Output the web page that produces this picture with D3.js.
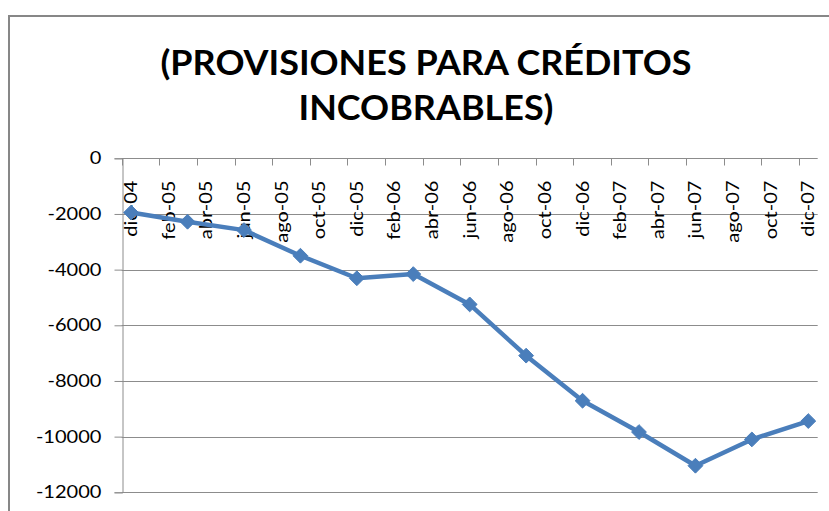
<!DOCTYPE html>
<html>
<head>
<meta charset="utf-8">
<script src="https://cdn.jsdelivr.net/npm/d3@7"></script>
<style>
  html, body { margin: 0; padding: 0; background: #fff; }
  svg { display: block; }
  text { font-family: Lato, "Open Sans", sans-serif; fill: #000; }
</style>
</head>
<body>
<svg id="chart" width="829" height="511"></svg>
<script>
// ---- data ----
const titleLines = ["(PROVISIONES PARA CRÉDITOS", "INCOBRABLES)"];
const monthAbbr = ["ene","feb","mar","abr","may","jun","jul","ago","sep","oct","nov","dic"];
const tickLabels = ["dic-04","feb-05","abr-05","jun-05","ago-05","oct-05","dic-05","feb-06","abr-06","jun-06","ago-06","oct-06","dic-06","feb-07","abr-07","jun-07","ago-07","oct-07","dic-07"];
const pointDates = ["dic-04","mar-05","jun-05","sep-05","dic-05","mar-06","jun-06","sep-06","dic-06","mar-07","jun-07","sep-07","dic-07"];
const values = [-1950, -2280, -2580, -3500, -4310, -4160, -5250, -7090, -8710, -9835, -11045, -10100, -9440];
const yTicks = [0, -2000, -4000, -6000, -8000, -10000, -12000];

// month slots of the date axis (dic-04 .. dic-07)
const allMonths = [];
for (let yr = 4; yr <= 7; yr++) {
  monthAbbr.forEach((m, i) => {
    if (yr === 4 && i < 11) return;
    allMonths.push(m + "-" + String(yr).padStart(2, "0"));
  });
}

const svg = d3.select("#chart");
const plot = { left: 121.7, right: 817.7, top: 158.3, bottom: 492.3 };

const x = d3.scaleBand().domain(allMonths).range([plot.left, plot.right]).paddingInner(0).paddingOuter(0);
const bw = x.bandwidth();
const y = d3.scaleLinear().domain([0, -12000]).range([plot.top, plot.bottom]);

// outer chart border (extends beyond view)
svg.append("rect").attr("x", 9).attr("y", 16).attr("width", 900).attr("height", 600)
  .attr("fill", "none").attr("stroke", "#878787").attr("stroke-width", 2);

function stretch(sel, k) {
  sel.each(function () {
    const w = this.getComputedTextLength();
    d3.select(this).attr("textLength", w * k).attr("lengthAdjust", "spacingAndGlyphs");
  });
}

// title
const titleBase = [75, 120];
const titleWidth = [531, 255];
titleLines.forEach((t, i) => {
  svg.append("text").attr("x", 426).attr("y", titleBase[i])
    .attr("text-anchor", "middle").attr("font-size", 34).attr("font-weight", 700)
    .attr("textLength", titleWidth[i]).attr("lengthAdjust", "spacingAndGlyphs")
    .text(t);
});

// horizontal gridlines
svg.append("g").selectAll("line").data(yTicks.filter(d => d !== 0)).join("line")
  .attr("x1", plot.left).attr("x2", plot.right)
  .attr("y1", d => Math.round(y(d)) + 0.5).attr("y2", d => Math.round(y(d)) + 0.5)
  .attr("stroke", "#8c8c8c").attr("stroke-width", 1);

// y axis
const yAxis = svg.append("g").attr("transform", `translate(${Math.round(plot.left) + 0.5},0)`)
  .call(d3.axisLeft(y).tickValues(yTicks).tickSize(8).tickPadding(13).tickFormat(d => String(d)));
yAxis.select(".domain").attr("stroke", "#8c8c8c");
yAxis.selectAll(".tick line").attr("stroke", "#8c8c8c");
yAxis.selectAll(".tick text").attr("font-size", 17).attr("font-family", "Lato, sans-serif").attr("fill", "#000");
stretch(yAxis.selectAll(".tick text"), 1.18);

// x axis (date axis at value 0)
const xAxis = svg.append("g").attr("transform", `translate(0,${Math.round(y(0)) + 0.5})`);
xAxis.append("line").attr("x1", plot.left).attr("x2", plot.right).attr("stroke", "#8c8c8c");
xAxis.selectAll("line.tick").data(tickLabels).join("line").attr("class", "tick")
  .attr("x1", d => Math.round(x(d)) + 0.5).attr("x2", d => Math.round(x(d)) + 0.5)
  .attr("y1", 0).attr("y2", 7).attr("stroke", "#8c8c8c");
const xl = xAxis.selectAll("text").data(tickLabels).join("text")
  .attr("transform", d => `translate(${x(d) + bw / 2},${22}) rotate(-90)`)
  .attr("text-anchor", "end").attr("dy", "0.35em")
  .attr("font-size", 17).text(d => d);
stretch(xl, 1.18);

// series line
const pts = pointDates.map((d, i) => ({ d, v: values[i] }));
svg.append("path").datum(pts)
  .attr("fill", "none").attr("stroke", "#4A7EBB").attr("stroke-width", 4.5)
  .attr("stroke-linejoin", "round").attr("stroke-linecap", "round")
  .attr("d", d3.line().x(p => x(p.d) + bw / 2).y(p => y(p.v)));

// diamond markers
svg.append("g").selectAll("path").data(pts).join("path")
  .attr("transform", p => `translate(${x(p.d) + bw / 2},${y(p.v)})`)
  .attr("d", d3.symbol().type(d3.symbolDiamond2).size(140)())
  .attr("fill", "#4A7EBB").attr("stroke", "#4A7EBB").attr("stroke-width", 1);
</script>
</body>
</html>
